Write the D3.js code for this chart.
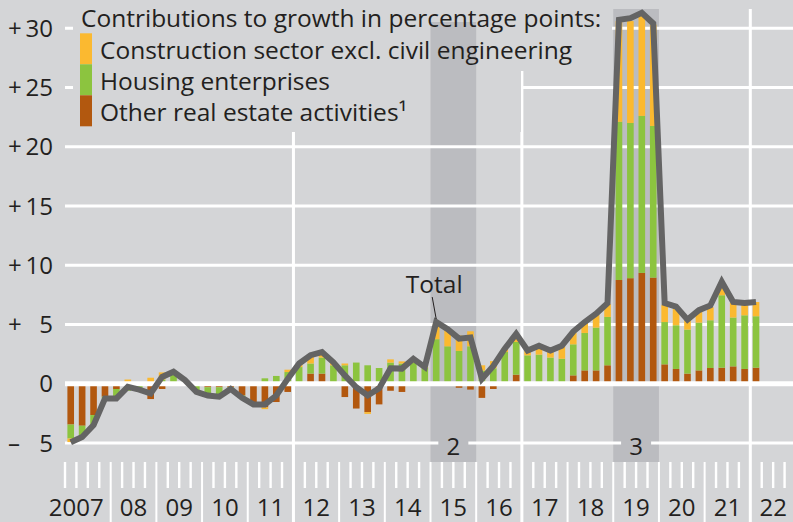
<!DOCTYPE html>
<html>
<head>
<meta charset="utf-8">
<script src="https://cdn.jsdelivr.net/npm/d3@7"></script>
<style>
  html, body { margin: 0; padding: 0; background: #d4d5d7; }
  svg { display: block; }
  text { font-family: "Open Sans", "Noto Sans", sans-serif; fill: #231f20; }
</style>
</head>
<body>
<div id="chart"></div>
<script>
// years on the axis
var years = d3.range(2007, 2023);
var yearLabels = ["2007", "08", "09", "10", "11", "12", "13", "14", "15", "16", "17", "18", "19", "20", "21", "22"];

// quarterly categories, 2007 Q1 ... 2022 Q1
var quarters = [];
years.forEach(function (y) { [1, 2, 3, 4].forEach(function (q) { quarters.push(y + " Q" + q); }); });
quarters = quarters.slice(0, 61);

// contributions in percentage points
var otherRealEstate = [
    -3.45, -3.55, -2.65, -1.1, -0.45, -0.1, -0.2, -1.3, -0.45, 0.1,
    0.1, -0.1, -0.3, -0.3, -0.3, -1.0, -1.6, -2.0, -1.55, -0.7,
    0.1, 0.85, 0.85, 0, -1.13, -2.1, -2.4, -1.75, -0.6, -0.7,
    0.1, 0, 0.15, 0, -0.35, -0.5, -1.2, -0.45, 0, 0.76,
    0, 0, -0.1, 0, 0.7, 1.12, 1.12, 1.55, 8.75, 8.9,
    9.35, 8.95, 1.63, 1.24, 0.85, 1.12, 1.32, 1.35, 1.46, 1.24,
    1.35];
var housing = [
    -1.18, -0.95, -0.85, -0.15, -0.85, -0.5, -0.3, 0, 0.35, 0.8,
    0.2, -0.6, -0.7, -0.7, -0.15, -0.2, -0.15, 0.45, 0.65, 0.98,
    1.3, 0.85, 1.35, 1.55, 1.55, 1.78, 1.55, 1.32, 1.78, 1.7,
    1.65, 1.32, 3.6, 3.15, 2.76, 3.15, 1.1, 1.3, 2.67, 2.76,
    2.39, 2.45, 2.2, 2.1, 2.62, 3.16, 3.61, 4.08, 13.35, 13.1,
    13.25, 12.8, 3.57, 3.69, 3.71, 4.03, 4.03, 6.11, 4.12, 4.53,
    4.34];
var construction = [
    -0.3, 0, 0, 0, 0, 0.35, 0, 0.5, 0.6, 0.1,
    0, 0, 0, -0.1, 0, 0, 0, -0.15, 0, 0.2,
    0.25, 0.6, 0.4, 0.2, 0.15, 0, -0.15, 0, 0.27, 0.18,
    0.3, 0.1, 1.35, 1.4, 1.3, 1.27, 0.45, 0.6, 0.3, 0.6,
    0.42, 0.7, 0.6, 1.05, 1.0, 0.85, 1.1, 1.1, 8.5, 8.6,
    8.5, 8.55, 1.45, 1.4, 0.85, 0.95, 1.1, 0.9, 1.25, 0.95,
    1.2];
var total = [
    -4.95, -4.5, -3.5, -1.25, -1.25, -0.27, -0.5, -0.83, 0.57, 1.0,
    0.3, -0.7, -1.0, -1.1, -0.45, -1.2, -1.75, -1.75, -1.0, 0.4,
    1.7, 2.4, 2.67, 1.8, 0.7, -0.3, -1.0, -0.4, 1.3, 1.27,
    2.1, 1.4, 5.2, 4.6, 3.8, 3.9, 0.4, 1.5, 2.95, 4.2,
    2.8, 3.2, 2.8, 3.2, 4.4, 5.2, 5.9, 6.8, 30.7, 30.85,
    31.3, 30.4, 6.8, 6.5, 5.4, 6.2, 6.6, 8.6, 6.9, 6.8,
    6.9];

var yTicks = [-5, 0, 5, 10, 15, 20, 25, 30];
var shadedYears = [{year: 2015, label: "2"}, {year: 2019, label: "3"}];
var gridYears = [2012, 2017, 2022];

var legendTitle = "Contributions to growth in percentage points:";
var seriesKeys = ["other", "housing", "construction"];
var seriesNames = ["Other real estate activities\u00B9", "Housing enterprises", "Construction sector excl. civil engineering"];
var seriesColors = ["#b2580f", "#8cc43f", "#fbb930"];

var width = 793, height = 522;
var bg = "#d4d5d7", bandColor = "#bbbcc0";

var svg = d3.select("#chart").append("svg")
    .attr("width", width)
    .attr("height", height);

svg.append("rect").attr("width", width).attr("height", height).attr("fill", bg);

var x = d3.scaleLinear().domain([2007, 2023]).range([65, 796]);
var y = d3.scaleLinear().domain([-5, 30]).range([442.9, 28.2]);
var qw = (x(2008) - x(2007)) / 4;
var plotTop = 9, axisTop = 462;

function qCenter(i) {
    return x(2007) + qw * (i + 0.5);
}

// shaded periods
svg.append("g").selectAll("rect")
    .data(shadedYears)
    .enter()
    .append("rect")
    .attr("x", function (d) { return x(d.year); })
    .attr("width", function (d) { return x(d.year + 1) - x(d.year); })
    .attr("y", plotTop)
    .attr("height", axisTop - plotTop)
    .attr("fill", bandColor);

// horizontal grid
svg.append("g").selectAll("line")
    .data(yTicks)
    .enter()
    .append("line")
    .attr("x1", 65)
    .attr("x2", width)
    .attr("y1", function (d) { return y(d); })
    .attr("y2", function (d) { return y(d); })
    .attr("stroke", "#fff")
    .attr("stroke-width", 3);

// vertical grid
svg.append("g").selectAll("line")
    .data(gridYears)
    .enter()
    .append("line")
    .attr("x1", function (d) { return x(d); })
    .attr("x2", function (d) { return x(d); })
    .attr("y1", plotTop)
    .attr("y2", height)
    .attr("stroke", "#fff")
    .attr("stroke-width", 3);

// quarter ticks and year separators
var qTicks = d3.range(0, 16 * 4 + 1);
svg.append("g").selectAll("line")
    .data(qTicks.filter(function (i) { return i % 4 !== 0 || i === 0; }))
    .enter()
    .append("line")
    .attr("x1", function (i) { return x(2007) + qw * i; })
    .attr("x2", function (i) { return x(2007) + qw * i; })
    .attr("y1", axisTop)
    .attr("y2", 488)
    .attr("stroke", "#fff")
    .attr("stroke-width", 2.4);

svg.append("g").selectAll("line")
    .data(years.slice(1).filter(function (d) { return gridYears.indexOf(d) < 0; }))
    .enter()
    .append("line")
    .attr("x1", function (d) { return x(d); })
    .attr("x2", function (d) { return x(d); })
    .attr("y1", axisTop)
    .attr("y2", height)
    .attr("stroke", "#fff")
    .attr("stroke-width", 2);

// stacked bars
var rows = quarters.map(function (q, i) {
    return {q: q, i: i, other: otherRealEstate[i], housing: housing[i], construction: construction[i]};
});
var stack = d3.stack().keys(seriesKeys).offset(d3.stackOffsetDiverging);
var layers = stack(rows);
var barW = qw * 0.58;

svg.append("g").selectAll("g")
    .data(layers)
    .enter()
    .append("g")
    .attr("fill", function (d, k) { return seriesColors[k]; })
    .selectAll("rect")
    .data(function (d) { return d; })
    .enter()
    .append("rect")
    .attr("x", function (d) { return qCenter(d.data.i) - barW / 2; })
    .attr("width", barW)
    .attr("y", function (d) { return y(Math.max(d[0], d[1])); })
    .attr("height", function (d) { return Math.abs(y(d[0]) - y(d[1])); });

// zero line on top of the bars
svg.append("line")
    .attr("x1", 65)
    .attr("x2", width)
    .attr("y1", y(0))
    .attr("y2", y(0))
    .attr("stroke", "#fff")
    .attr("stroke-width", 5);

// total
var line = d3.line()
    .x(function (d, i) { return qCenter(i); })
    .y(function (d) { return y(d); });

svg.append("path")
    .datum(total)
    .attr("d", line)
    .attr("fill", "none")
    .attr("stroke", "#646464")
    .attr("stroke-width", 6)
    .attr("stroke-linejoin", "miter")
    .attr("stroke-miterlimit", 3);

// "Total" annotation
var peak = 32;
svg.append("line")
    .attr("x1", qCenter(peak) - 4)
    .attr("y1", y(total[peak]) - 25)
    .attr("x2", qCenter(peak))
    .attr("y2", y(total[peak]) - 3)
    .attr("stroke", "#231f20")
    .attr("stroke-width", 1);
svg.append("text")
    .attr("x", qCenter(peak) - 2)
    .attr("y", y(total[peak]) - 29)
    .attr("text-anchor", "middle")
    .style("font-size", "24.5px")
    .text("Total");

// legend background hides the grid
svg.append("rect").attr("x", 73).attr("y", 0).attr("width", 612 - 73).attr("height", 71).attr("fill", bg);
svg.append("rect").attr("x", 73).attr("y", 70).attr("width", 521 - 73).attr("height", 62).attr("fill", bg);
// shaded period 2 shows through the legend box
svg.append("rect")
    .attr("x", x(2015))
    .attr("width", x(2016) - x(2015))
    .attr("y", 22)
    .attr("height", 132 - 22)
    .attr("fill", bandColor);

svg.append("text")
    .attr("x", 81)
    .attr("y", 27)
    .style("font-size", "24.5px")
    .text(legendTitle);

var legendOrder = [2, 1, 0];
var legend = svg.append("g").selectAll("g")
    .data(legendOrder)
    .enter()
    .append("g")
    .attr("transform", function (k, j) { return "translate(0," + (33.3 + j * 31) + ")"; });

legend.append("rect")
    .attr("x", 80)
    .attr("width", 12)
    .attr("height", 31)
    .attr("fill", function (k) { return seriesColors[k]; });

legend.append("text")
    .attr("x", 100)
    .attr("y", 26)
    .style("font-size", "24.5px")
    .text(function (k) { return seriesNames[k]; });

// period labels
var pl = svg.append("g").selectAll("g")
    .data(shadedYears)
    .enter()
    .append("g");
pl.append("rect")
    .attr("x", function (d) { return x(d.year + 0.5) - 15; })
    .attr("y", 432)
    .attr("width", 30)
    .attr("height", 30)
    .attr("fill", bandColor);
pl.append("text")
    .attr("x", function (d) { return x(d.year + 0.5); })
    .attr("y", 455)
    .attr("text-anchor", "middle")
    .style("font-size", "24px")
    .text(function (d) { return d.label; });

// y axis labels
var yl = svg.append("g").selectAll("g")
    .data(yTicks)
    .enter()
    .append("g");
yl.append("text")
    .attr("x", 8)
    .attr("y", function (d) { return y(d) + 8.6; })
    .style("font-size", "24px")
    .text(function (d) { return d > 0 ? "+" : (d < 0 ? "\u2013" : ""); });
yl.append("text")
    .attr("x", 53)
    .attr("y", function (d) { return y(d) + 8.6; })
    .attr("text-anchor", "end")
    .style("font-size", "24px")
    .text(function (d) { return Math.abs(d); });

// x axis labels
svg.append("g").selectAll("text")
    .data(years)
    .enter()
    .append("text")
    .attr("x", function (d, i) { return i === 0 ? x(d + 1) - 7 : x(d + 0.5); })
    .attr("y", 516)
    .attr("text-anchor", function (d, i) { return i === 0 ? "end" : "middle"; })
    .style("font-size", "24px")
    .text(function (d, i) { return yearLabels[i]; });
</script>
</body>
</html>
